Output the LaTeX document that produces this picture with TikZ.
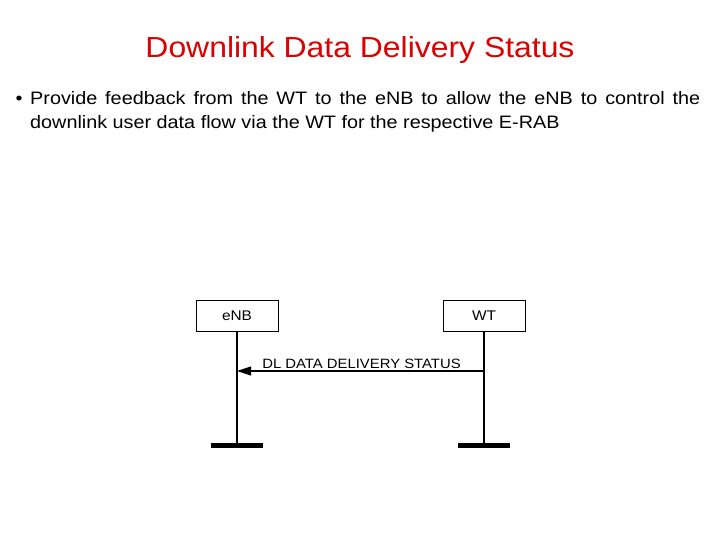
\documentclass[tikz,border=0pt]{standalone}
\usepackage{fontspec}
\setmainfont{Liberation Sans}[FakeStretch=1.1]
\usetikzlibrary{arrows.meta}
\definecolor{titlered}{RGB}{220,0,0}
\tikzset{
  entity/.style={draw=black, line width=1pt, minimum width=82pt, minimum height=31pt, inner sep=0pt, font=\fontsize{14}{16}\selectfont},
  lifeline/.style={line width=1.1pt},
  endbar/.style={line width=5.5pt},
  msg/.style={line width=1.1pt, -{Triangle[length=14pt,width=9pt]}},
}
\begin{document}
\begin{tikzpicture}[x=1pt,y=-1pt]
\useasboundingbox (0,0) rectangle (720,540);
\node[text=titlered, font=\fontsize{29}{34}\selectfont, anchor=base] (title) at (360,58) {Downlink Data Delivery Status};
\node[font=\fontsize{18}{24}\selectfont, anchor=base] (bullet) at (19,105) {•};
\node[font=\fontsize{18}{24}\selectfont, anchor=north west, inner sep=0pt, text width=670pt, align=justify] (body) at (30,91) {Provide feedback from the WT to the eNB to allow the eNB to control the\linebreak downlink user data flow via the WT for the respective E-RAB};
\node[entity] (enb) at (237,315.5) {eNB};
\node[entity] (wt) at (484,315.5) {WT};
\coordinate (enbend) at (237,445.5);
\coordinate (wtend) at (484,445.5);
\draw[lifeline] (enb.south) -- (enbend);
\draw[lifeline] (wt.south) -- (wtend);
\draw[endbar] ([xshift=-26pt]enbend) -- ([xshift=26pt]enbend);
\draw[endbar] ([xshift=-26pt]wtend) -- ([xshift=26pt]wtend);
\coordinate (wtmsg) at (484,371);
\coordinate (enbmsg) at (237,371);
\draw[msg] (wtmsg) -- node[above, font=\fontsize{13.5}{16}\selectfont, inner sep=2pt, xshift=1pt] (lbl) {DL DATA DELIVERY STATUS} (enbmsg);
\end{tikzpicture}
\end{document}
